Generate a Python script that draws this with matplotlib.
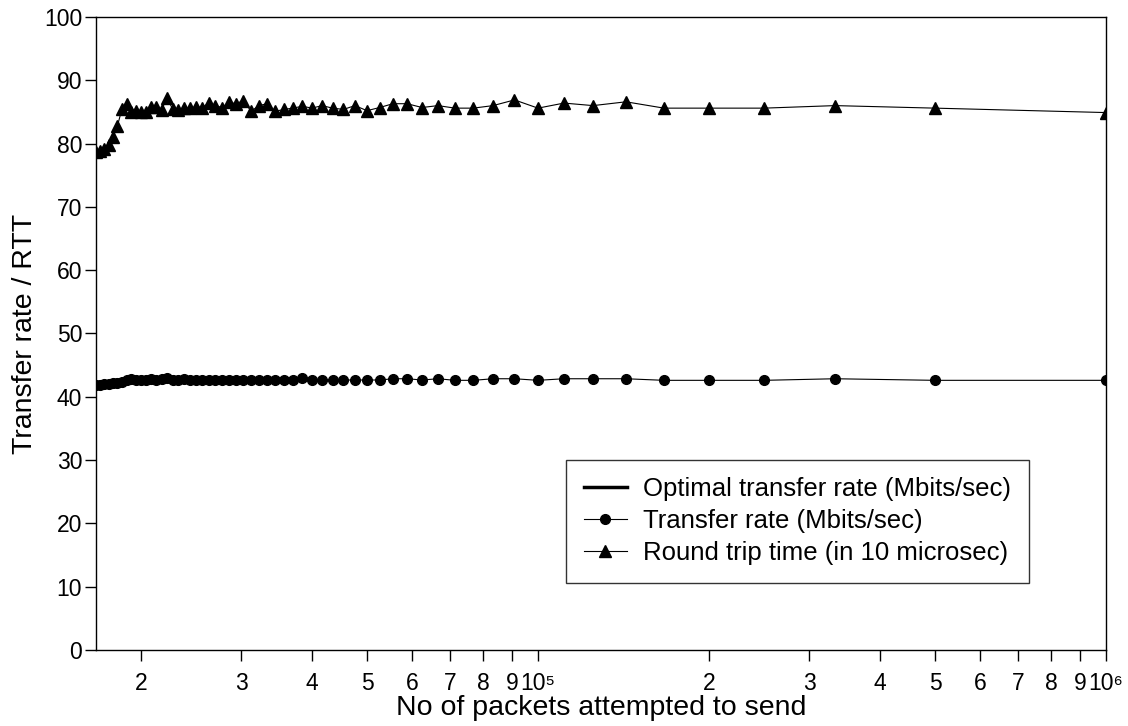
import matplotlib
matplotlib.use('Agg')
import matplotlib.pyplot as plt
from matplotlib.ticker import FixedLocator, FixedFormatter, NullLocator

plt.rcParams['font.family'] = ['Liberation Sans', 'DejaVu Sans']

# packets attempted = 1e6 / n, n = 60 .. 1
divisors = list(range(60, 0, -1))
packets = [1e6 / n for n in divisors]

# transfer rate (Mbits/sec), n = 60 .. 1
transfer_rate = [
    41.9, 41.9, 41.95, 42.0, 42.1, 42.2, 42.4, 42.6, 42.8, 42.7,
    42.7, 42.7, 42.8, 42.7, 42.8, 43.0, 42.7, 42.7, 42.8, 42.7,
    42.7, 42.65, 42.7, 42.65, 42.7, 42.65, 42.7, 42.65, 42.7, 42.65,
    42.65, 42.7, 42.65, 42.65, 42.9, 42.65, 42.65, 42.65, 42.65, 42.65,
    42.65, 42.65, 42.85, 42.85, 42.65, 42.85, 42.6, 42.6, 42.85, 42.85,
    42.6, 42.85, 42.85, 42.85, 42.6, 42.6, 42.6, 42.85, 42.6, 42.6,
]

# round trip time (in 10 microsec), n = 60 .. 1
rtt = [
    78.7, 78.9, 79.1, 79.8, 81.0, 82.8, 85.5, 86.3, 85.0, 85.2,
    85.0, 85.0, 85.8, 85.8, 85.3, 87.2, 85.5, 85.3, 85.6, 85.6,
    85.8, 85.7, 86.4, 86.0, 85.7, 86.5, 86.3, 86.8, 85.1, 86.0,
    86.3, 85.1, 85.4, 85.6, 85.9, 85.6, 86.0, 85.6, 85.4, 86.0,
    85.2, 85.7, 86.3, 86.3, 85.7, 86.0, 85.6, 85.6, 86.0, 86.9,
    85.6, 86.4, 86.0, 86.6, 85.6, 85.6, 85.6, 86.0, 85.6, 84.9,
]

xtick_pos = [2e4, 3e4, 4e4, 5e4, 6e4, 7e4, 8e4, 9e4, 1e5,
             2e5, 3e5, 4e5, 5e5, 6e5, 7e5, 8e5, 9e5, 1e6]
xtick_lab = ['2', '3', '4', '5', '6', '7', '8', '9', '10\u2075',
             '2', '3', '4', '5', '6', '7', '8', '9', '10\u2076']

fig = plt.figure(figsize=(11.28, 7.26), dpi=100)
ax = fig.add_axes([0.0851, 0.1047, 0.8954, 0.8719])

ax.plot([], [], color='black', lw=2.5, label='Optimal transfer rate (Mbits/sec)')
ax.plot(packets, transfer_rate, color='black', lw=0.8, marker='o', ms=7,
        label='Transfer rate (Mbits/sec)')
ax.plot(packets, rtt, color='black', lw=0.8, marker='^', ms=8.5,
        label='Round trip time (in 10 microsec)')

ax.set_xscale('log')
ax.set_xlim(packets[0], 1e6)
ax.set_ylim(0, 100)
ax.set_yticks(range(0, 101, 10))
ax.xaxis.set_major_locator(FixedLocator(xtick_pos))
ax.xaxis.set_major_formatter(FixedFormatter(xtick_lab))
ax.xaxis.set_minor_locator(NullLocator())

ax.tick_params(axis='x', direction='out', length=8, width=1, pad=8, labelsize=16.5)
ax.tick_params(axis='y', direction='out', length=8, width=1, pad=2, labelsize=16.5)
for s in ax.spines.values():
    s.set_linewidth(1)

ax.set_xlabel('No of packets attempted to send', fontsize=20.5, labelpad=0)
ax.set_ylabel('Transfer rate / RTT', fontsize=20.5, labelpad=4)

leg = ax.legend(loc='lower left', bbox_to_anchor=(0.465, 0.106), borderaxespad=0,
                fontsize=18.5, frameon=True, fancybox=False, handlelength=1.7,
                handletextpad=0.6, labelspacing=0.3, borderpad=0.7)
leg.get_frame().set_edgecolor('black')
leg.get_frame().set_linewidth(1)

fig.savefig('out.png', dpi=100)
